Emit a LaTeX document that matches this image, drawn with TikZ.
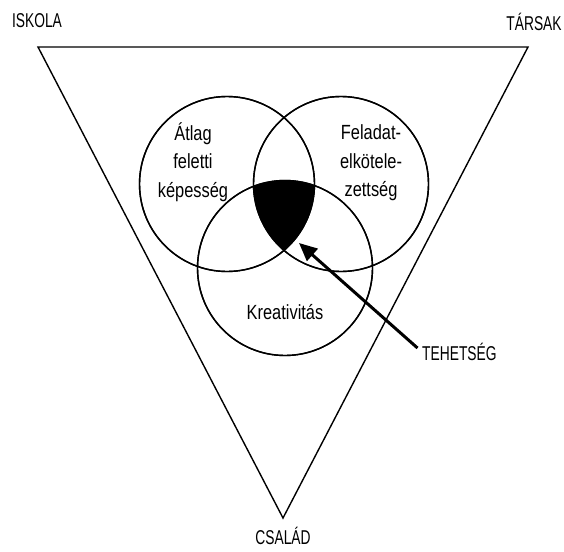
\documentclass[tikz,border=0pt]{standalone}
\usepackage{fontspec}
\setmainfont{Liberation Sans}[FakeStretch=0.8]
\newfontfamily\capsfont{Liberation Sans}[FakeStretch=0.69]
\usepackage{tikz}
\usetikzlibrary{arrows.meta, positioning}

\begin{document}
\begin{tikzpicture}[
    x=1pt, y=-1pt,
    ring/.style={circle, draw=black, line width=1.4pt, minimum size=175pt, inner sep=0pt},
    inner/.style={align=center, inner sep=0pt, font=\fontsize{20.5}{28.5}\selectfont},
    outer/.style={inner sep=0pt, font=\capsfont\fontsize{20}{22}\selectfont},
    arrow/.style={-{Triangle[length=18pt, width=16pt]}, line width=3pt, draw=black}
]
\useasboundingbox (0,0) rectangle (564,551);

% Triangle
\coordinate (tl) at (38,47);
\coordinate (tr) at (528,47);
\coordinate (bt) at (283,518);
\draw[line width=1.4pt, line join=miter] (tl) -- (tr) -- (bt) -- cycle;

% Corner labels
\node[outer] (iskola) at (37,21) {ISKOLA};
\node[outer] (tarsak) at (534,22) {TÁRSAK};
\node[outer] (csalad) at (283,536) {CSALÁD};

% Three rings
\node[ring] (kepesseg) at (227,184) {};
\node[ring] (feladat) at (341,184) {};
\node[ring] (kreativ) at (285,268) {};

% Common part
\begin{scope}
  \clip (kepesseg.center) circle (87.5);
  \clip (feladat.center) circle (87.5);
  \fill[black] (kreativ.center) circle (87.5);
\end{scope}
\draw[line width=1.4pt] (kepesseg.center) circle (87.5);
\draw[line width=1.4pt] (feladat.center) circle (87.5);
\draw[line width=1.4pt] (kreativ.center) circle (87.5);

% Ring texts
\node[inner] (atlag) at (193,162) {Átlag\\feletti\\képesség};
\node[inner] (elkot) at (371,163) {Feladat-\\elkötele-\\zettség};
\node[inner] (kreat) at (285,312) {Kreativitás};

% Pointer
\node[outer, anchor=west] (tehetseg) at (422,352) {TEHETSÉG};
\coordinate (tip) at (299,243);
\draw[arrow, shorten <=6pt] (tehetseg.west) -- (tip);

\end{tikzpicture}
\end{document}
